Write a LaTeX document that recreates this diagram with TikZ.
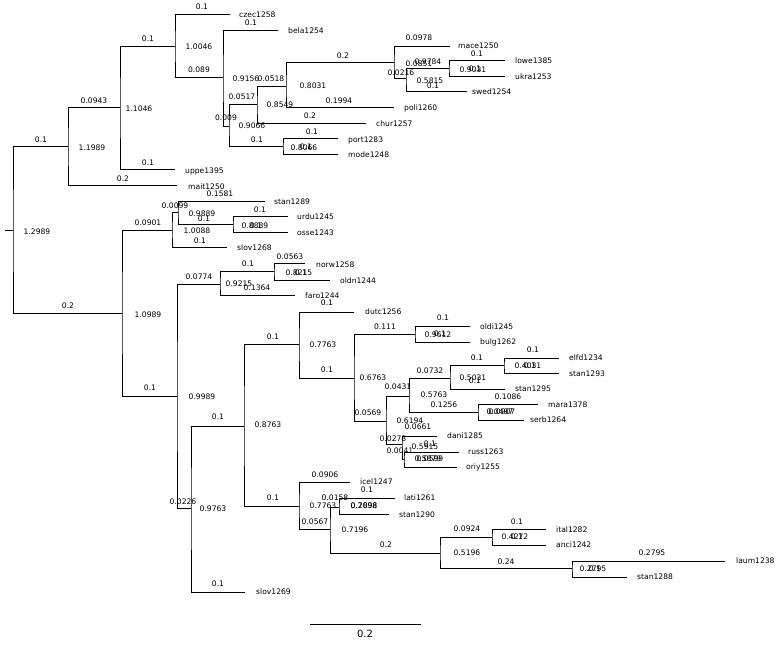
\documentclass[tikz,border=0pt]{standalone}
\usepackage{fontspec}
\setmainfont{DejaVu Sans}
\begin{document}
\begin{tikzpicture}[x=1pt,y=-1pt,
  br/.style={draw=black,line width=1pt},
  lab/.style={inner sep=0pt,font=\fontsize{7.6}{9}\selectfont},
  leaf/.style={inner sep=0pt,anchor=west,font=\fontsize{7.6}{9}\selectfont}]
\newcommand{\tbr}[3]{\draw[br] (#2) -| (#1) |- (#3);}
\useasboundingbox[fill=white] (0,0) rectangle (782,647);
% internal nodes
\coordinate (root) at (13,231); \coordinate (stem) at (5,231);
\coordinate (A) at (68,147); \coordinate (B) at (120,108);
\coordinate (C) at (175,47); \coordinate (D) at (223,78);
\coordinate (E) at (229,127); \coordinate (F) at (257,105);
\coordinate (G) at (286,87); \coordinate (H) at (394,63);
\coordinate (I) at (406,79); \coordinate (J) at (449,69);
\coordinate (PM) at (283,147);
\coordinate (K) at (122,313); \coordinate (L) at (172,231);
\coordinate (M) at (178,213); \coordinate (N) at (233,225);
\coordinate (O) at (177,396); \coordinate (P) at (220,284);
\coordinate (Q) at (274,272); \coordinate (R) at (191,508);
\coordinate (S) at (244,426); \coordinate (T) at (299,344);
\coordinate (U) at (354,378); \coordinate (V) at (415,334);
\coordinate (W) at (386,421); \coordinate (X) at (409,396);
\coordinate (Y) at (450,378); \coordinate (Z) at (504,365);
\coordinate (AA) at (478,412); \coordinate (BB) at (402,444);
\coordinate (CC) at (404,459); \coordinate (DD) at (299,506);
\coordinate (EE) at (330,529); \coordinate (FF) at (339,507);
\coordinate (GG) at (440,553); \coordinate (HH) at (492,537);
\coordinate (II) at (572,568);
% leaf ends
\coordinate (czec) at (230,15); \coordinate (bela) at (278,31);
\coordinate (mace) at (450,47); \coordinate (lowe) at (505,61);
\coordinate (ukra) at (505,77); \coordinate (swed) at (467,92);
\coordinate (poli) at (394,108); \coordinate (chur) at (366,124);
\coordinate (port) at (338,139); \coordinate (mode) at (338,155);
\coordinate (uppe) at (175,170); \coordinate (mait) at (177,186);
\coordinate (stanA) at (265,202); \coordinate (urdu) at (288,217);
\coordinate (osse) at (288,233); \coordinate (slovA) at (227,248);
\coordinate (norw) at (305,264); \coordinate (oldn) at (330,280);
\coordinate (faro) at (295,295); \coordinate (dutc) at (354,312);
\coordinate (oldi) at (470,326); \coordinate (bulg) at (470,342);
\coordinate (elfd) at (559,358); \coordinate (stanB) at (559,373);
\coordinate (stanC) at (505,389); \coordinate (mara) at (538,404);
\coordinate (serb) at (524,420); \coordinate (dani) at (437,436);
\coordinate (russ) at (459,452); \coordinate (oriy) at (457,467);
\coordinate (icel) at (350,482); \coordinate (lati) at (395,498);
\coordinate (stanD) at (389,514); \coordinate (ital) at (546,529);
\coordinate (anci) at (546,545); \coordinate (laum) at (725,561);
\coordinate (stanE) at (627,577); \coordinate (slovB) at (245,592);
% branches
\draw[br] (stem) -- (root);
\tbr{root}{A}{K}
\tbr{A}{B}{mait}
\tbr{B}{C}{uppe}
\tbr{C}{czec}{D}
\tbr{D}{bela}{E}
\tbr{E}{F}{PM}
\tbr{F}{G}{chur}
\tbr{G}{H}{poli}
\tbr{H}{mace}{I}
\tbr{I}{J}{swed}
\tbr{J}{lowe}{ukra}
\tbr{PM}{port}{mode}
\tbr{K}{L}{O}
\tbr{L}{M}{slovA}
\tbr{M}{stanA}{N}
\tbr{N}{urdu}{osse}
\tbr{O}{P}{R}
\tbr{P}{Q}{faro}
\tbr{Q}{norw}{oldn}
\tbr{R}{S}{slovB}
\tbr{S}{T}{DD}
\tbr{T}{dutc}{U}
\tbr{U}{V}{W}
\tbr{V}{oldi}{bulg}
\tbr{W}{X}{BB}
\tbr{X}{Y}{AA}
\tbr{Y}{Z}{stanC}
\tbr{Z}{elfd}{stanB}
\tbr{AA}{mara}{serb}
\tbr{BB}{dani}{CC}
\tbr{CC}{russ}{oriy}
\tbr{DD}{icel}{EE}
\tbr{EE}{FF}{GG}
\tbr{FF}{lati}{stanD}
\tbr{GG}{HH}{II}
\tbr{HH}{ital}{anci}
\tbr{II}{laum}{stanE}
% leaf labels
\node[leaf] (t1) at (239,15) {czec1258};
\node[leaf] (t2) at (288,31) {bela1254};
\node[leaf] (t3) at (458,46) {mace1250};
\node[leaf] (t4) at (515,61) {lowe1385};
\node[leaf] (t5) at (515,77) {ukra1253};
\node[leaf] (t6) at (472,92) {swed1254};
\node[leaf] (t7) at (404,108) {poli1260};
\node[leaf] (t8) at (376,124) {chur1257};
\node[leaf] (t9) at (348,140) {port1283};
\node[leaf] (t10) at (348,155) {mode1248};
\node[leaf] (t11) at (185,171) {uppe1395};
\node[leaf] (t12) at (188,187) {mait1250};
\node[leaf] (t13) at (274,202) {stan1289};
\node[leaf] (t14) at (297,217) {urdu1245};
\node[leaf] (t15) at (297,233) {osse1243};
\node[leaf] (t16) at (237,248) {slov1268};
\node[leaf] (t17) at (316,265) {norw1258};
\node[leaf] (t18) at (340,281) {oldn1244};
\node[leaf] (t19) at (305,296) {faro1244};
\node[leaf] (t20) at (365,312) {dutc1256};
\node[leaf] (t21) at (480,327) {oldi1245};
\node[leaf] (t22) at (480,342) {bulg1262};
\node[leaf] (t23) at (569,358) {elfd1234};
\node[leaf] (t24) at (569,374) {stan1293};
\node[leaf] (t25) at (515,389) {stan1295};
\node[leaf] (t26) at (548,405) {mara1378};
\node[leaf] (t27) at (530,420) {serb1264};
\node[leaf] (t28) at (447,436) {dani1285};
\node[leaf] (t29) at (468,452) {russ1263};
\node[leaf] (t30) at (466,467) {oriy1255};
\node[leaf] (t31) at (360,482) {icel1247};
\node[leaf] (t32) at (404,498) {lati1261};
\node[leaf] (t33) at (399,515) {stan1290};
\node[leaf] (t34) at (556,530) {ital1282};
\node[leaf] (t35) at (556,545) {anci1242};
\node[leaf] (t36) at (736,561) {laum1238};
\node[leaf] (t37) at (637,577) {stan1288};
\node[leaf] (t38) at (256,592) {slov1269};
% branch labels
\foreach \t/\x/\y [count=\i] in {
 0.1/41/140, 1.1989/92/148, 0.0943/94/101, 0.2/123/179, 1.1046/139/109,
 0.1/148/39, 0.1/148/163, 1.0046/199/47, 0.1/202/7, 0.089/199/70,
 0.1/251/23, 0.009/226/118, 0.9156/246/79, 0.0518/271/79, 0.0517/242/97,
 0.9066/252/126, 0.1/257/140, 0.8549/280/105, 0.2/310/116, 0.2/343/56,
 0.1994/339/101, 0.8031/313/86, 0.0978/419/38, 0.0216/401/73, 0.0851/419/64,
 0.9784/428/62, 0.5815/430/81, 0.1/433/86, 0.1/477/54, 0.9031/473/70,
 0.1/475/69, 0.1/312/132, 0.8066/304/148, 0.1/306/147,
 0.2/68/306, 1.2989/37/232, 0.0901/148/223, 1.0989/148/315, 0.1/150/388,
 0.0099/175/206, 0.1581/220/194, 0.9889/202/214, 0.1/204/219, 1.0088/197/231,
 0.1/200/241, 0.1/260/210, 0.8889/255/226, 0.1/256/226, 0.0774/199/277,
 0.9989/202/397, 0.0226/183/502, 0.1/248/264, 0.9215/239/284, 0.1364/257/288,
 0.0563/290/257, 0.8215/299/273, 0.1/301/273, 0.9763/213/509, 0.1/218/417,
 0.1/218/584, 0.8763/268/425, 0.1/273/337, 0.1/273/498, 0.1/327/303,
 0.1/327/370, 0.7763/323/345, 0.111/385/327, 0.0569/368/413, 0.6763/373/378,
 0.1/443/318, 0.9612/438/335, 0.1/440/334, 0.0431/398/387, 0.0278/393/439,
 0.6194/410/421, 0.0732/430/371, 0.1256/444/405, 0.5763/434/395, 0.1/477/358,
 0.5031/473/378, 0.1/475/381, 0.1/533/350, 0.4031/528/366, 0.1/530/366,
 0.1086/508/397, 0.0497/500/412, 0.0907/502/412, 0.0661/418/427, 0.0041/400/451,
 0.5915/425/447, 0.1/430/444, 0.5879/428/459, 0.0599/430/459, 0.0906/325/475,
 0.0567/315/522, 0.7763/323/506, 0.0158/335/498, 0.2/386/545, 0.7196/355/530,
 0.1/367/490, 0.7898/364/506, 0.2098/364/506, 0.0924/467/529, 0.24/506/562,
 0.5196/467/553, 0.1/517/522, 0.4272/515/537, 0.1/517/537, 0.2795/652/553,
 0.2795/593/569, 0.1/595/569}
 \node[lab] (b\i) at (\x,\y) {\t};
% scale bar
\coordinate (sb1) at (310,624); \coordinate (sb2) at (421,624);
\draw[br] (sb1) -- (sb2);
\node[inner sep=0pt,font=\fontsize{10}{12}\selectfont] (sbl) at (365,634) {0.2};
\end{tikzpicture}
\end{document}
